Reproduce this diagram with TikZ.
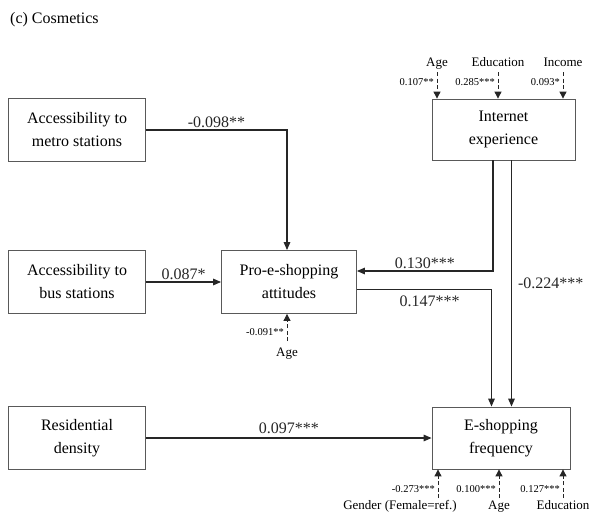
\documentclass[tikz,border=0pt]{standalone}
\usepackage{fontspec}
\setmainfont{Liberation Serif}
\usetikzlibrary{arrows.meta}

\begin{document}
\begin{tikzpicture}[x=1pt,y=-1pt,
  box/.style={draw=black!65,line width=0.8pt,minimum width=137pt,minimum height=63pt,align=center,inner sep=2pt,font=\fontsize{16}{23}\selectfont},
  effect/.style={black!85,line width=1.3pt,-{Triangle[length=8pt,width=6.5pt]}},
  coef/.style={font=\fontsize{16}{18}\selectfont,inner sep=2pt},
  cov/.style={black!85,line width=0.9pt,dash pattern=on 4pt off 2.5pt,-{Triangle[length=7pt,width=7pt]}},
  covname/.style={font=\fontsize{13}{15}\selectfont,inner sep=1pt,anchor=base},
  covcoef/.style={font=\fontsize{10.5}{12}\selectfont,inner sep=1pt,anchor=east}]

\useasboundingbox (0,0) rectangle (592,517);

\node[anchor=west,inner sep=0pt,font=\fontsize{16}{18}\selectfont] (title) at (10,20) {(c) Cosmetics};

% boxes
\node[box] (metro) at (77,130) {Accessibility to\\metro stations};
\node[box] (bus) at (77,282) {Accessibility to\\bus stations};
\node[box] (resid) at (77,438) {Residential\\density};
\node[box,minimum width=135pt] (pro) at (289,282) {Pro-e-shopping\\attitudes};
\node[box,minimum width=143pt,minimum height=61pt] (inet) at (503.5,129.5) {Internet\\experience};
\node[box,minimum width=138pt,minimum height=62pt] (eshop) at (501,438) {E-shopping\\frequency};

% paths
\draw[effect] (metro.east) -| ([xshift=-2pt]pro.north) node [coef,above,pos=0.25] (l-metro) {-0.098**};
\draw[effect] (bus) -- (pro) node [coef,above,midway] (l-bus) {0.087*};
\draw[effect] ([xshift=-10.5pt]inet.south) |- ([yshift=11pt]pro.east) node [coef,above,pos=0.75] (l-ip) {0.130***};
\draw[effect] ([xshift=8pt]inet.south) -- ([xshift=8pt]inet.south |- eshop.north) node [coef,right,midway,xshift=4pt] (l-ie) {-0.224***};
\draw[effect] ([yshift=-7.5pt]pro.east) -| ([xshift=-9.5pt]eshop.north) node [coef,below,pos=0.27,yshift=-4pt] (l-pe) {0.147***};
\draw[effect] (resid) -- (eshop) node [coef,above,midway,yshift=2pt] (l-re) {0.097***};

% controls on internet experience
\foreach \x/\c/\n [count=\i] in {437/{0.107**}/Age,498/{0.285***}/Education,563/{0.093*}/Income}{
  \node[covname] (tn\i) at (\x,66.5) {\n};
  \node[covcoef] (tc\i) at (\x-2,82) {\c};
  \coordinate (ts\i) at (\x,72);
  \draw[cov] (ts\i) -- (ts\i |- inet.north);
}

% control on attitudes
\node[covname] (p-age) at (287,356) {Age};
\node[covcoef] (pc-age) at (285,332) {-0.091**};
\coordinate (ps-age) at (287,341);
\draw[cov] (ps-age) -- (ps-age |- pro.south);

% controls on e-shopping
\foreach \x/\c/\n/\d [count=\i] in {438/{-0.273***}/{Gender (Female=ref.)}/-38,499/{0.100***}/Age/0,563/{0.127***}/Education/0}{
  \node[covname] (bn\i) at (\x+\d,509) {\n};
  \node[covcoef] (bc\i) at (\x-2,489) {\c};
  \coordinate (bs\i) at (\x,498);
  \draw[cov] (bs\i) -- (bs\i |- eshop.south);
}

\end{tikzpicture}
\end{document}
